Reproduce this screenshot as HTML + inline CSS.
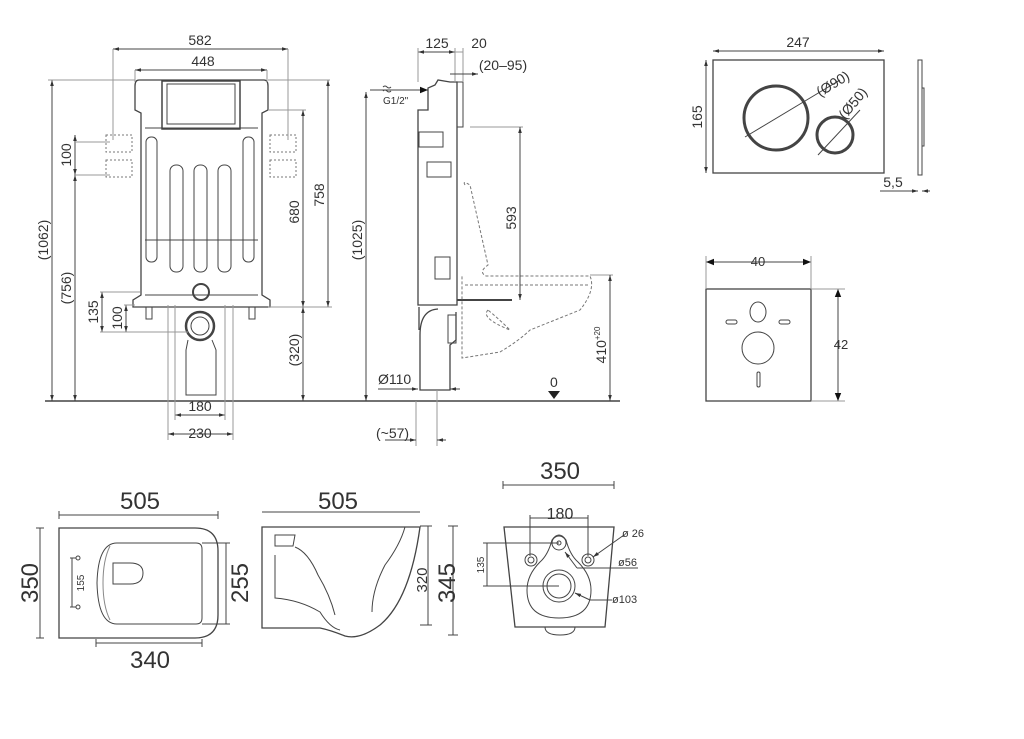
<!DOCTYPE html>
<html><head><meta charset="utf-8"><style>
html,body{margin:0;padding:0;background:#fff;width:1024px;height:739px;overflow:hidden}
svg{display:block}
text{font-family:"Liberation Sans",sans-serif;fill:#333}
</style></head><body>
<svg width="1024" height="739" viewBox="0 0 1024 739" xmlns="http://www.w3.org/2000/svg">
<defs>
<marker id="a" viewBox="0 0 10 10" refX="10" refY="5" markerWidth="6" markerHeight="6" orient="auto-start-reverse"><path d="M0,2 L10,5 L0,8z" fill="#333"/></marker>
<marker id="b" viewBox="0 0 10 10" refX="10" refY="5" markerWidth="8" markerHeight="8" orient="auto-start-reverse"><path d="M0,1 L10,5 L0,9z" fill="#111"/></marker>
</defs>
<g stroke="#444" stroke-width="1" fill="none">
<line x1="45" y1="401" x2="620" y2="401" stroke-width="1.5"/>
<path d="M139,80 H264 Q268,80 268,86 V110 L262,113 V295 L270,300 V307 H133 V300 L141,295 V113 L135,110 V86 Q135,80 139,80Z" stroke-width="1.3"/>
<rect x="162" y="81" width="78" height="48" stroke-width="1.5"/>
<rect x="167" y="84" width="68" height="40"/>
<line x1="145" y1="128" x2="258" y2="128"/>
<rect x="146" y="137" width="11" height="125" rx="5"/>
<rect x="170" y="165" width="13" height="107" rx="6"/>
<rect x="194" y="165" width="13" height="107" rx="6"/>
<rect x="218" y="165" width="13" height="107" rx="6"/>
<rect x="243" y="137" width="11" height="125" rx="5"/>
<line x1="145" y1="240" x2="258" y2="240"/>
<line x1="145" y1="295" x2="258" y2="295"/>
<circle cx="201" cy="292" r="8" stroke-width="2"/>
<rect x="146" y="307" width="6" height="12"/><rect x="249" y="307" width="6" height="12"/>
<circle cx="200" cy="326" r="14" stroke-width="2.5"/>
<circle cx="200" cy="326" r="9"/>
<path d="M188,340 L186,350 V395 H216 V350 L212,340"/>
<g stroke-dasharray="2,2" stroke="#777"><rect x="106" y="135" width="26" height="17"/><rect x="106" y="160" width="26" height="17"/><rect x="270" y="135" width="26" height="17"/><rect x="270" y="160" width="26" height="17"/></g>
<line x1="113" y1="49" x2="288" y2="49" marker-start="url(#a)" marker-end="url(#a)"/>
<line x1="113" y1="49" x2="113" y2="140" stroke="#999"/><line x1="288" y1="49" x2="288" y2="140" stroke="#999"/>
<line x1="135" y1="70" x2="267" y2="70" marker-start="url(#a)" marker-end="url(#a)"/>
<line x1="135" y1="70" x2="135" y2="82" stroke="#999"/><line x1="267" y1="70" x2="267" y2="82" stroke="#999"/>
<line x1="52" y1="80" x2="52" y2="401" marker-start="url(#a)" marker-end="url(#a)"/>
<line x1="48" y1="80" x2="135" y2="80" stroke="#999"/>
<line x1="75" y1="135" x2="75" y2="175" marker-start="url(#a)" marker-end="url(#a)"/>
<line x1="75" y1="175" x2="75" y2="401" marker-start="url(#a)" marker-end="url(#a)"/>
<line x1="75" y1="142" x2="110" y2="142" stroke="#999"/><line x1="75" y1="175" x2="110" y2="175" stroke="#999"/>
<line x1="328" y1="80" x2="328" y2="307" marker-start="url(#a)" marker-end="url(#a)"/>
<line x1="268" y1="80" x2="330" y2="80" stroke="#999"/>
<line x1="303" y1="110" x2="303" y2="307" marker-start="url(#a)" marker-end="url(#a)"/>
<line x1="303" y1="307" x2="303" y2="401" marker-start="url(#a)" marker-end="url(#a)"/>
<line x1="268" y1="110" x2="306" y2="110" stroke="#999"/><line x1="268" y1="307" x2="332" y2="307" stroke="#999"/>
<line x1="102" y1="292" x2="102" y2="332" marker-start="url(#a)" marker-end="url(#a)"/>
<line x1="126" y1="305" x2="126" y2="332" marker-start="url(#a)" marker-end="url(#a)"/>
<line x1="100" y1="292" x2="140" y2="292" stroke="#999"/><line x1="100" y1="332" x2="188" y2="332" stroke="#999"/><line x1="124" y1="305" x2="135" y2="305" stroke="#999"/>
<line x1="175" y1="415" x2="225" y2="415" marker-start="url(#a)" marker-end="url(#a)"/>
<line x1="168" y1="434" x2="233" y2="434" marker-start="url(#a)" marker-end="url(#a)"/>
<line x1="175" y1="305" x2="175" y2="420" stroke="#999"/><line x1="225" y1="305" x2="225" y2="420" stroke="#999"/>
<line x1="168" y1="305" x2="168" y2="440" stroke="#999"/><line x1="233" y1="305" x2="233" y2="440" stroke="#999"/>
<line x1="366" y1="92" x2="366" y2="401" marker-start="url(#a)" marker-end="url(#a)"/>
<path d="M418,110 V305 H457 V82 H450 L438,80 L435,85 L428,88 V110 Z" stroke-width="1.3"/>
<rect x="457" y="82" width="6" height="45"/>
<rect x="419" y="132" width="24" height="15"/><rect x="427" y="162" width="24" height="15"/>
<rect x="435" y="257" width="15" height="22"/>
<line x1="457" y1="300" x2="512" y2="300" stroke-width="2"/>
<path d="M419,307 V330 M438,309 Q420,310 420,335 V390 H450 V345 L456,340 V312" stroke-width="1.3"/>
<rect x="448" y="315" width="8" height="28"/>
<g stroke-dasharray="3,2" stroke="#777">
<path d="M465,185 Q462,180 470,185 L488,265 Q478,272 486,276 H590 Q596,290 580,310 L530,330 Q520,340 500,352 L462,358 V276"/>
<path d="M488,310 Q480,318 510,330 Q500,320 488,310Z"/>
<line x1="465" y1="285" x2="590" y2="285"/>
</g>
<line x1="418" y1="52" x2="455" y2="52" marker-start="url(#a)" marker-end="url(#a)"/>
<line x1="455" y1="52" x2="463" y2="52" stroke="#999"/>
<line x1="418" y1="48" x2="418" y2="82" stroke="#999"/><line x1="455" y1="48" x2="455" y2="82" stroke="#999"/><line x1="463" y1="48" x2="463" y2="82" stroke="#999"/>
<line x1="450" y1="74" x2="478" y2="74" marker-end="url(#a)"/>
<line x1="470" y1="127" x2="523" y2="127" stroke="#999"/>
<line x1="520" y1="127" x2="520" y2="300" marker-start="url(#a)" marker-end="url(#a)"/>
<line x1="590" y1="275" x2="613" y2="275" stroke="#999"/>
<line x1="610" y1="275" x2="610" y2="401" marker-start="url(#a)" marker-end="url(#a)"/>
<line x1="378" y1="389" x2="418" y2="389" marker-end="url(#a)"/><line x1="450" y1="389" x2="460" y2="389" marker-start="url(#a)"/>
<line x1="416" y1="401" x2="416" y2="446" stroke="#999"/><line x1="437" y1="390" x2="437" y2="446" stroke="#999"/>
<line x1="385" y1="440" x2="416" y2="440" marker-end="url(#a)"/><line x1="437" y1="440" x2="446" y2="440" marker-start="url(#a)"/>
<line x1="370" y1="90" x2="428" y2="90" marker-end="url(#b)"/>
<path d="M383,87 q2,-2 4,0 t4,0 M383,91 q2,-2 4,0 t4,0"/>
<rect x="713" y="60" width="171" height="113" stroke-width="1.3"/>
<circle cx="776" cy="118" r="32" stroke-width="3"/>
<circle cx="835" cy="135" r="18" stroke-width="3"/>
<line x1="745" y1="137" x2="840" y2="80"/>
<line x1="818" y1="155" x2="860" y2="110"/>
<line x1="713" y1="51" x2="884" y2="51" marker-start="url(#a)" marker-end="url(#a)"/>
<line x1="706" y1="60" x2="706" y2="173" marker-start="url(#a)" marker-end="url(#a)"/>
<rect x="918" y="60" width="4" height="115"/><rect x="922" y="88" width="2" height="58"/>
<line x1="880" y1="191" x2="918" y2="191" marker-end="url(#a)"/><line x1="922" y1="191" x2="930" y2="191" marker-start="url(#a)"/>
<rect x="706" y="289" width="105" height="112" stroke-width="1.3"/>
<ellipse cx="758" cy="312" rx="8" ry="10"/>
<ellipse cx="758" cy="348" rx="16" ry="16"/>
<rect x="726" y="320" width="11" height="4" rx="2"/><rect x="779" y="320" width="11" height="4" rx="2"/>
<rect x="757" y="372" width="3" height="15" rx="1.5"/>
<line x1="706" y1="262" x2="811" y2="262" marker-start="url(#b)" marker-end="url(#b)"/>
<line x1="706" y1="256" x2="706" y2="289" stroke="#999"/><line x1="811" y1="256" x2="811" y2="289" stroke="#999"/>
<line x1="838" y1="289" x2="838" y2="401" marker-start="url(#b)" marker-end="url(#b)"/>
<line x1="811" y1="289" x2="845" y2="289" stroke="#999"/><line x1="811" y1="401" x2="845" y2="401" stroke="#999"/>
<!-- bottom top view -->
<path d="M59,528 H195 Q218,528 218,551 V615 Q218,638 195,638 H59Z" stroke-width="1.3"/>
<path d="M117,543 H196 Q202,543 202,549 V618 Q202,624 196,624 H117 Q98,624 97,583 Q98,543 117,543Z"/>
<path d="M110,546 Q103,560 103,583 Q103,606 110,620" stroke="#888"/>
<path d="M113,573 V594 H130 Q143,594 143,583 Q143,573 130,573Z" transform="translate(0,-10)"/>
<line x1="59" y1="515" x2="218" y2="515"/><line x1="59" y1="511" x2="59" y2="519"/><line x1="218" y1="511" x2="218" y2="519"/>
<line x1="40" y1="528" x2="40" y2="638"/><line x1="36" y1="528" x2="44" y2="528"/><line x1="36" y1="638" x2="44" y2="638"/>
<line x1="96" y1="643" x2="202" y2="643"/><line x1="96" y1="639" x2="96" y2="647"/><line x1="202" y1="639" x2="202" y2="647"/>
<line x1="202" y1="543" x2="230" y2="543"/><line x1="202" y1="624" x2="230" y2="624"/><line x1="226" y1="543" x2="226" y2="624"/>
<line x1="72" y1="558" x2="72" y2="607"/><line x1="70" y1="558" x2="76" y2="558"/><line x1="70" y1="607" x2="76" y2="607"/><circle cx="78" cy="558" r="2"/><circle cx="78" cy="607" r="2"/>
<!-- side bowl -->
<path d="M262,527 H420 Q410,600 380,625 Q360,640 345,636 Q330,630 320,628 H262Z" stroke-width="1.3"/>
<path d="M275,535 H295 L293,546 H275Z M275,555 V598 Q300,600 320,612 Q330,628 340,630 M295,547 Q308,552 318,575 Q330,595 335,615"/>
<path d="M405,527 Q400,545 385,565 Q372,590 372,612"/>
<line x1="262" y1="512" x2="420" y2="512"/>
<line x1="420" y1="526" x2="432" y2="526"/><line x1="420" y1="625" x2="432" y2="625"/><line x1="428" y1="526" x2="428" y2="625"/>
<line x1="448" y1="526" x2="458" y2="526"/><line x1="448" y1="635" x2="458" y2="635"/><line x1="453" y1="526" x2="453" y2="635"/>
<!-- back view -->
<path d="M504,527 H614 L605,627 H515Z" stroke-width="1.3"/>
<path d="M545,627 Q545,635 560,635 Q575,635 575,627"/>
<path d="M552,540 Q548,555 540,562 Q527,575 527,590 Q527,618 559,618 Q591,618 591,590 Q591,575 578,562 Q570,555 566,540 Q559,530 552,540Z"/>
<circle cx="559" cy="543" r="7"/><circle cx="559" cy="543" r="2"/>
<circle cx="531" cy="560" r="6"/><circle cx="531" cy="560" r="3"/>
<circle cx="588" cy="560" r="6"/><circle cx="588" cy="560" r="3"/>
<circle cx="559" cy="586" r="16"/><circle cx="559" cy="586" r="12"/>
<line x1="503" y1="485" x2="614" y2="485"/><line x1="503" y1="481" x2="503" y2="489"/><line x1="614" y1="481" x2="614" y2="489"/>
<line x1="530" y1="518" x2="588" y2="518"/><line x1="530" y1="515" x2="530" y2="556"/><line x1="588" y1="515" x2="588" y2="556"/>
<line x1="483" y1="543" x2="559" y2="543"/><line x1="483" y1="586" x2="559" y2="586"/><line x1="487" y1="543" x2="487" y2="586"/>
<line x1="624" y1="535" x2="593" y2="557" marker-end="url(#a)"/>
<line x1="638" y1="568" x2="577" y2="568"/><line x1="577" y1="568" x2="565" y2="552" marker-end="url(#a)"/>
<line x1="612" y1="600" x2="590" y2="600"/><line x1="590" y1="600" x2="575" y2="593" marker-end="url(#a)"/>
</g>
<path d="M548,391 h12 l-6,8z" fill="#222"/>
<g font-size="14">
<text x="200" y="45" text-anchor="middle">582</text>
<text x="203" y="66" text-anchor="middle">448</text>
<text x="200" y="411" text-anchor="middle">180</text>
<text x="200" y="438" text-anchor="middle">230</text>
<text transform="translate(48,240) rotate(-90)" text-anchor="middle">(1062)</text>
<text transform="translate(71,288) rotate(-90)" text-anchor="middle">(756)</text>
<text transform="translate(71,155) rotate(-90)" text-anchor="middle">100</text>
<text transform="translate(98,312) rotate(-90)" text-anchor="middle">135</text>
<text transform="translate(122,318) rotate(-90)" text-anchor="middle">100</text>
<text transform="translate(324,195) rotate(-90)" text-anchor="middle">758</text>
<text transform="translate(299,212) rotate(-90)" text-anchor="middle">680</text>
<text transform="translate(299,350) rotate(-90)" text-anchor="middle">(320)</text>
<text transform="translate(362,240) rotate(-90)" text-anchor="middle">(1025)</text>
<text x="437" y="48" text-anchor="middle">125</text>
<text x="479" y="48" text-anchor="middle">20</text>
<text x="503" y="70" text-anchor="middle">(20–95)</text>
<text transform="translate(516,218) rotate(-90)" text-anchor="middle">593</text>
<text transform="translate(606,345) rotate(-90)" text-anchor="middle">410<tspan font-size="8" dy="-6">+20</tspan></text>
<text x="378" y="384">Ø110</text>
<text x="376" y="438">(~57)</text>
<text x="550" y="387">0</text>
<text x="798" y="47" text-anchor="middle">247</text>
<text transform="translate(702,117) rotate(-90)" text-anchor="middle">165</text>
<text x="893" y="187" text-anchor="middle">5,5</text>
<text x="758" y="266" text-anchor="middle" font-size="13">40</text>
<text x="841" y="349" text-anchor="middle" font-size="13">42</text>
<text transform="translate(820,97) rotate(-31)">(Ø90)</text>
<text transform="translate(845,120) rotate(-50)">(Ø50)</text>
</g>
<text x="383" y="104" font-size="10">G1/2"</text>
<g font-size="24">
<text x="140" y="509" text-anchor="middle">505</text>
<text x="338" y="509" text-anchor="middle">505</text>
<text x="560" y="479" text-anchor="middle">350</text>
<text x="150" y="668" text-anchor="middle">340</text>
<text transform="translate(38,583) rotate(-90)" text-anchor="middle">350</text>
<text transform="translate(248,583) rotate(-90)" text-anchor="middle">255</text>
<text transform="translate(455,583) rotate(-90)" text-anchor="middle">345</text>
</g>
<text x="560" y="519" text-anchor="middle" font-size="16">180</text>
<text transform="translate(427,580) rotate(-90)" text-anchor="middle" font-size="15">320</text>
<text transform="translate(84,583) rotate(-90)" text-anchor="middle" font-size="10">155</text>
<text transform="translate(484,565) rotate(-90)" text-anchor="middle" font-size="10">135</text>
<text x="622" y="537" font-size="11">ø 26</text>
<text x="618" y="566" font-size="11">ø56</text>
<text x="612" y="603" font-size="11">ø103</text>
</svg>
</body></html>
